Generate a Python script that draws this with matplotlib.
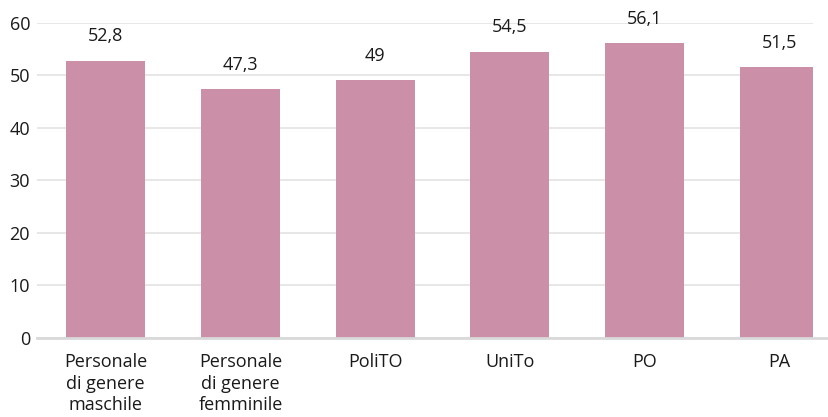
import matplotlib
matplotlib.use("Agg")
import matplotlib.pyplot as plt
import numpy as np

categories = ["Personale\ndi genere\nmaschile", "Personale\ndi genere\nfemminile", "PoliTO", "UniTo", "PO", "PA"]
values = [52.8, 47.3, 49, 54.5, 56.1, 51.5]
value_labels = ["52,8", "47,3", "49", "54,5", "56,1", "51,5"]
yticks = [0, 10, 20, 30, 40, 50, 60]

plt.rcParams['font.family'] = ['Open Sans', 'DejaVu Sans']
txt = "#1a1a1a"

fig = plt.figure(figsize=(8.29, 4.17), dpi=100)
ax = fig.add_axes([0.0446, 0.1894, 0.9361, 0.7562])
x = np.arange(len(categories))
ax.bar(x, values, width=0.586, color="#CC8FA8", zorder=3)
for xi, v, lab in zip(x, values, value_labels):
    ax.annotate(lab, (xi, v), xytext=(0, 11), textcoords="offset points",
                ha="center", va="bottom", fontsize=13, color=txt)
ax.set_xlim(-0.51, 5.25)
ax.set_ylim(0, 60)
ax.set_yticks(yticks)
ax.set_yticklabels([str(t) for t in yticks], fontsize=13, color=txt)
ax.set_xticks(x)
ax.set_xticklabels(categories, fontsize=13, color=txt, linespacing=1.25)
ax.tick_params(axis="both", length=0)
ax.tick_params(axis="y", pad=5)
ax.tick_params(axis="x", pad=11)
ax.grid(axis="y", color="#e3e3e3", linewidth=1.2, zorder=0)
for s in ["top", "right", "left", "bottom"]:
    ax.spines[s].set_visible(False)
ax.axhline(0, xmin=0, xmax=1.02, color="#d9d9d9", linewidth=2, clip_on=False, zorder=4)
fig.savefig("out.png", dpi=100)
